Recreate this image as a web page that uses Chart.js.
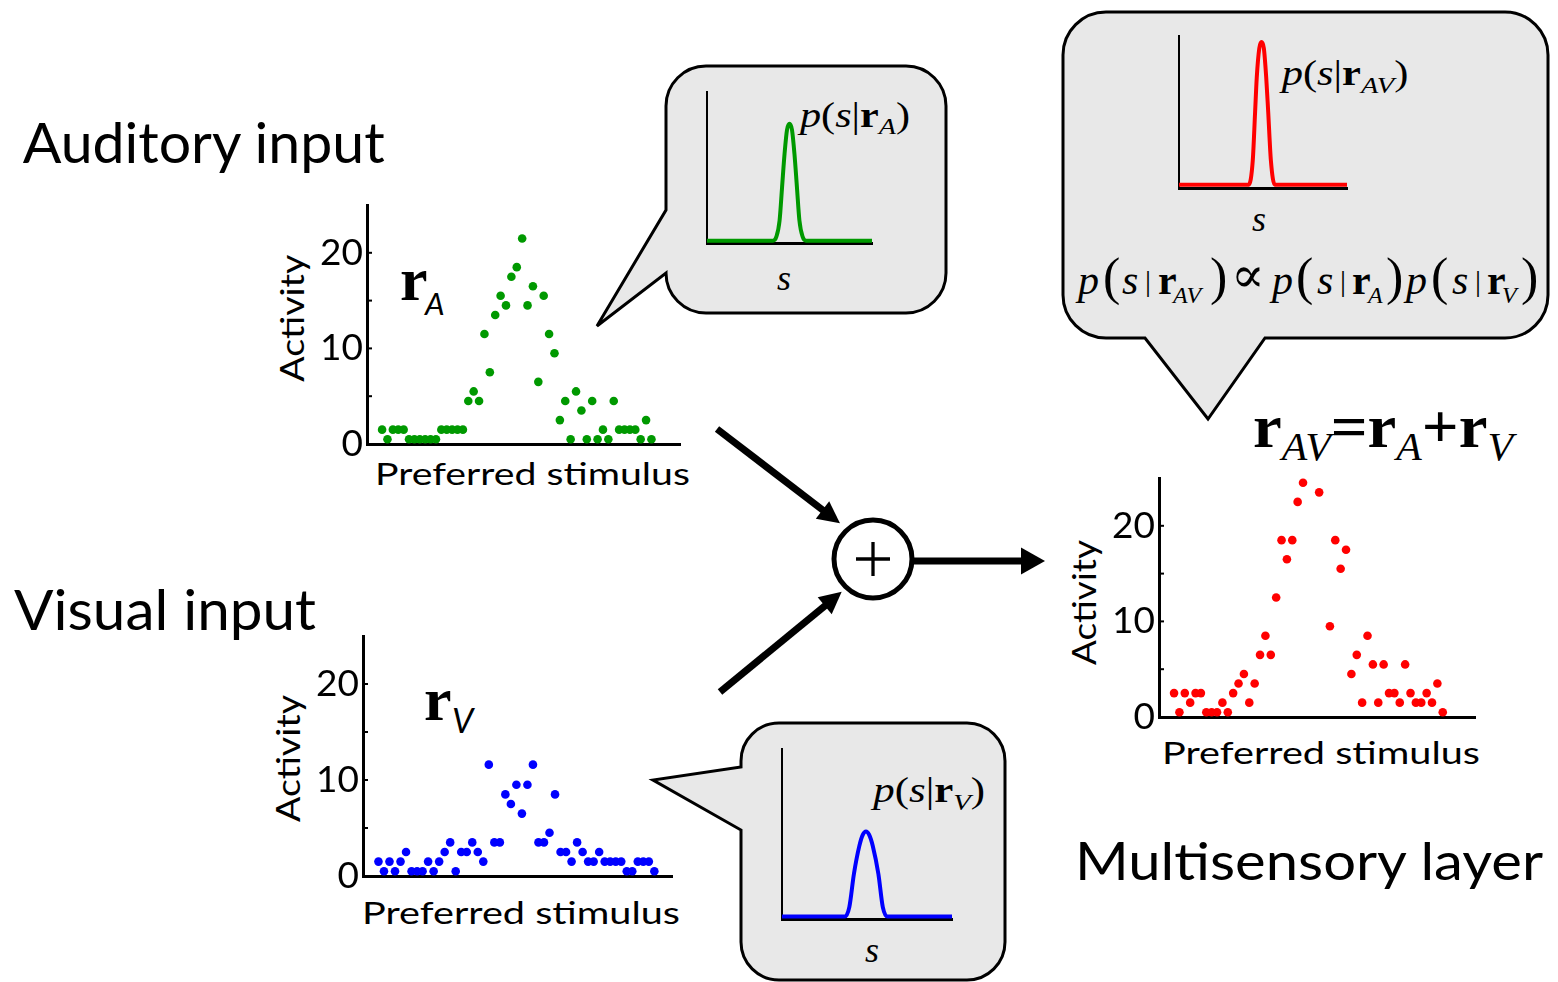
<!DOCTYPE html>
<html>
<head>
<meta charset="utf-8">
<script src="https://cdn.jsdelivr.net/npm/chart.js@4.4.0/dist/chart.umd.min.js"></script>
<style>
    html, body { margin: 0; padding: 0; background: #fff; }
    #stage { position: relative; width: 1558px; height: 982px; overflow: hidden; }
    #stage svg { position: absolute; left: 0; top: 0; }
    #stage canvas { position: absolute; }
</style>
</head>
<body>
<div id="stage">
<svg width="1558" height="982" xmlns="http://www.w3.org/2000/svg">
    <!-- пузыри -->
    <g fill="#e8e8e8" stroke="#000" stroke-width="3" stroke-linejoin="miter">
        <path d="M 706 66 H 906 A 40 40 0 0 1 946 106 V 273 A 40 40 0 0 1 906 313 H 706 A 40 40 0 0 1 666 273 L 597 326 L 666 210 V 106 A 40 40 0 0 1 706 66 Z"/>
        <path d="M 1106 12 H 1505 A 43 43 0 0 1 1548 55 V 295 A 43 43 0 0 1 1505 338 H 1265 L 1208 419 L 1145 338 H 1106 A 43 43 0 0 1 1063 295 V 55 A 43 43 0 0 1 1106 12 Z"/>
        <path d="M 779 723 H 967 A 38 38 0 0 1 1005 761 V 942 A 38 38 0 0 1 967 980 H 779 A 38 38 0 0 1 741 942 V 830 L 653 780 L 741 767 V 761 A 38 38 0 0 1 779 723 Z"/>
    </g>
    <!-- стрелки и сумматор -->
    <g stroke="#000" fill="none">
        <line x1="717" y1="429" x2="824" y2="511" stroke-width="7"/>
        <line x1="720" y1="692" x2="826" y2="605" stroke-width="7"/>
        <line x1="913" y1="561" x2="1024" y2="561" stroke-width="7"/>
        <circle cx="873" cy="559" r="39" stroke-width="5" fill="#fff"/>
        <line x1="856" y1="559" x2="890" y2="559" stroke-width="3.3"/>
        <line x1="873" y1="542" x2="873" y2="576" stroke-width="3.3"/>
    </g>
    <g fill="#000">
        <polygon points="840,523.3 815.8,518.7 829.2,501.3"/>
        <polygon points="841.7,591.7 831.7,614.2 817.7,597.2"/>
        <polygon points="1045,561 1021,547.5 1021,574.5"/>
    </g>

    <!-- подписи -->
    <g font-family="Lato, 'Open Sans', sans-serif" fill="#000">
        <text x="22.7" y="163.3" font-size="56" textLength="362" lengthAdjust="spacingAndGlyphs">Auditory input</text>
        <text x="14" y="630" font-size="56" textLength="302" lengthAdjust="spacingAndGlyphs">Visual input</text>
        <text x="1075" y="880" font-size="53" textLength="468" lengthAdjust="spacingAndGlyphs">Multisensory layer</text>
        <text x="375" y="485" font-size="31" textLength="315" lengthAdjust="spacingAndGlyphs">Preferred stimulus</text>
        <text x="362" y="924" font-size="31" textLength="318" lengthAdjust="spacingAndGlyphs">Preferred stimulus</text>
        <text x="1162" y="764" font-size="31" textLength="318" lengthAdjust="spacingAndGlyphs">Preferred stimulus</text>
        <text transform="translate(304,381.7) rotate(-90)" font-size="33" textLength="127" lengthAdjust="spacingAndGlyphs">Activity</text>
        <text transform="translate(300,822) rotate(-90)" font-size="33" textLength="127" lengthAdjust="spacingAndGlyphs">Activity</text>
        <text transform="translate(1096,665) rotate(-90)" font-size="33" textLength="125" lengthAdjust="spacingAndGlyphs">Activity</text>
        <text x="425" y="315" font-size="31" font-style="italic">A</text>
        <text x="452" y="733" font-size="34" font-style="italic">V</text>
    </g>

    <g font-family="'Liberation Serif', 'DejaVu Serif', serif" fill="#000">
        <text x="400" y="300" font-size="62" font-weight="bold">r</text>
        <text x="424" y="720" font-size="62" font-weight="bold">r</text>

        <text x="1253" y="446.7" textLength="260" lengthAdjust="spacingAndGlyphs"><tspan font-size="62" font-weight="bold">r</tspan><tspan font-size="40" font-style="italic" dy="13.3">AV</tspan><tspan font-size="62" font-weight="bold" dy="-13.3">=r</tspan><tspan font-size="40" font-style="italic" dy="13.3">A</tspan><tspan font-size="62" font-weight="bold" dy="-13.3">+r</tspan><tspan font-size="40" font-style="italic" dy="13.3">V</tspan></text>

        <text x="800" y="127" font-size="36" textLength="110" lengthAdjust="spacingAndGlyphs"><tspan font-style="italic">p</tspan>(<tspan font-style="italic">s</tspan>|<tspan font-weight="bold">r</tspan><tspan font-style="italic" font-size="24" dy="7">A</tspan><tspan dy="-7">)</tspan></text>
        <text x="1281.7" y="85" font-size="36" textLength="126.6" lengthAdjust="spacingAndGlyphs"><tspan font-style="italic">p</tspan>(<tspan font-style="italic">s</tspan>|<tspan font-weight="bold">r</tspan><tspan font-style="italic" font-size="24" dy="8">AV</tspan><tspan dy="-8">)</tspan></text>
        <text x="873.3" y="802" font-size="36" textLength="111.7" lengthAdjust="spacingAndGlyphs"><tspan font-style="italic">p</tspan>(<tspan font-style="italic">s</tspan>|<tspan font-weight="bold">r</tspan><tspan font-style="italic" font-size="24" dy="8">V</tspan><tspan dy="-8">)</tspan></text>

        <text x="777" y="290" font-size="36" font-style="italic">s</text>
        <text x="1252" y="231" font-size="36" font-style="italic">s</text>
        <text x="865" y="962" font-size="36" font-style="italic">s</text>

        <text y="294" font-size="42"><tspan x="1078" font-style="italic">p</tspan><tspan x="1103" font-size="52">(</tspan><tspan x="1122" font-style="italic">s</tspan><tspan x="1145" font-size="30" dy="-3">|</tspan><tspan x="1158" font-weight="bold" dy="3">r</tspan><tspan x="1173" font-style="italic" font-size="24" dy="9">AV</tspan><tspan x="1210" font-size="52" dy="-9">)</tspan><tspan x="1231" font-size="50" dy="-2">∝</tspan><tspan x="1272" font-style="italic" dy="2">p</tspan><tspan x="1296" font-size="52">(</tspan><tspan x="1317" font-style="italic">s</tspan><tspan x="1340" font-size="30" dy="-3">|</tspan><tspan x="1352" font-weight="bold" dy="3">r</tspan><tspan x="1368" font-style="italic" font-size="24" dy="9">A</tspan><tspan x="1386" font-size="52" dy="-9">)</tspan><tspan x="1406" font-style="italic">p</tspan><tspan x="1431" font-size="52">(</tspan><tspan x="1452" font-style="italic">s</tspan><tspan x="1475" font-size="30" dy="-3">|</tspan><tspan x="1487" font-weight="bold" dy="3">r</tspan><tspan x="1502" font-style="italic" font-size="24" dy="9">V</tspan><tspan x="1521" font-size="52" dy="-9">)</tspan></text>
    </g>
</svg>
<canvas id="chartA"></canvas>
<canvas id="chartV"></canvas>
<canvas id="chartAV"></canvas>
<canvas id="postA"></canvas>
<canvas id="postV"></canvas>
<canvas id="postAV"></canvas>
</div>

<script>
// Номер нейрона (предпочитаемый стимул)
const neuronIndex = [0, 1, 2, 3, 4, 5, 6, 7, 8, 9, 10, 11, 12, 13, 14, 15, 16, 17, 18, 19, 20,
    21, 22, 23, 24, 25, 26, 27, 28, 29, 30, 31, 32, 33, 34, 35, 36, 37, 38, 39, 40,
    41, 42, 43, 44, 45, 46, 47, 48, 49, 50];

// Активность слуховой популяции r_A
const auditoryActivity = [1.5, 0.5, 1.5, 1.5, 1.5, 0.5, 0.5, 0.5, 0.5, 0.5, 0.5, 1.5, 1.5, 1.5, 1.5, 1.5,
    4.5, 5.5, 4.5, 11.5, 7.5, 13.5, 15.5, 14.5, 17.5, 18.5, 21.5, 14.5, 16.5, 6.5, 15.5, 11.5, 9.5,
    2.5, 4.5, 0.5, 5.5, 3.5, 0.5, 4.5, 0.5, 1.5, 0.5, 4.5, 1.5, 1.5, 1.5, 1.5, 0.5, 2.5, 0.5];

// Активность зрительной популяции r_V
const visualActivity = [1.5, 0.5, 1.5, 0.5, 1.5, 2.5, 0.5, 0.5, 0.5, 1.5, 0.5, 1.5, 2.5, 3.5, 0.5, 2.5,
    2.5, 3.5, 2.5, 1.5, 11.6, 3.5, 3.5, 8.5, 7.5, 9.5, 6.5, 9.5, 11.6, 3.5, 3.5, 4.5, 8.5,
    2.5, 2.5, 1.5, 3.5, 2.5, 1.5, 1.5, 2.5, 1.5, 1.5, 1.5, 1.5, 0.5, 0.5, 1.5, 1.5, 1.5, 0.5];

// Мультисенсорный слой r_AV (null — точка за пределами оси)
const multisensoryActivity = [2.5, 0.5, 2.5, 1.5, 2.5, 2.5, 0.5, 0.5, 0.5, 1.5, 0.5, 2.5, 3.5, 4.5, 1.5, 3.5,
    6.5, 8.5, 6.5, 12.5, 18.5, 16.5, 18.5, 22.5, 24.5, null, null, 23.5, null, 9.5, 18.5, 15.5, 17.5,
    4.5, 6.5, 1.5, 8.5, 5.5, 1.5, 5.5, 2.5, 2.5, 1.5, 5.5, 2.5, 1.5, 1.5, 2.5, 1.5, 3.5, 0.5];

const activityTickLabels = [0, 10, 20];
const activityTickMarks = [5, 10, 15, 20];

// Апостериорные распределения p(s|r)
const postA_s = [0, 40, 42, 44, 45.5, 47, 48.5, 50, 51.5, 53, 54.5, 56, 58, 60, 100];
const postA_p = [0.015, 0.015, 0.04, 0.15, 0.37, 0.59, 0.75, 0.79, 0.75, 0.59, 0.37, 0.15, 0.04, 0.015, 0.015];

const postV_s = [0, 37, 39.6, 42.3, 45.5, 47.5, 49.4, 51.3, 53.4, 56.7, 59.3, 62, 100];
const postV_p = [0.014, 0.014, 0.07, 0.265, 0.43, 0.495, 0.515, 0.495, 0.43, 0.265, 0.07, 0.014, 0.014];

const postAV_s = [0, 41.5, 43.9, 45.3, 46.3, 47.8, 49.1, 50.5, 51.9, 53.1, 54.7, 57, 100];
const postAV_p = [0.022, 0.022, 0.18, 0.5, 0.73, 0.92, 0.96, 0.92, 0.73, 0.5, 0.18, 0.022, 0.022];

// Короткие засечки внутри графика
const innerTicks = {
    id: 'innerTicks',
    afterDraw(chart) {
        const ys = chart.scales.y;
        const ctx = chart.ctx;
        ctx.save();
        ctx.strokeStyle = '#000';
        ctx.lineWidth = 2;
        activityTickMarks.forEach(v => {
            const py = ys.getPixelForValue(v);
            ctx.beginPath();
            ctx.moveTo(ys.right, py);
            ctx.lineTo(ys.right + 5, py);
            ctx.stroke();
        });
        ctx.restore();
    }
};

function placeCanvas(id, area, pad) {
    const cv = document.getElementById(id);
    cv.width = area.right - area.left + pad.l + pad.r;
    cv.height = area.bottom - area.top + pad.t + pad.b;
    cv.style.left = (area.left - pad.l) + 'px';
    cv.style.top = (area.top - pad.t) + 'px';
    return cv;
}

function scatterChart(id, area, xMax, values, color) {
    const pad = { l: 110, t: 30, r: 20, b: 60 };
    const cv = placeCanvas(id, area, pad);
    return new Chart(cv, {
        type: 'scatter',
        data: {
            datasets: [{
                data: neuronIndex.map((x, i) => ({ x: x, y: values[i] })),
                backgroundColor: color,
                borderWidth: 0,
                pointRadius: 4.3,
                pointHoverRadius: 4.3
            }]
        },
        options: {
            responsive: false,
            animation: false,
            devicePixelRatio: 1,
            layout: { padding: { left: 0, top: pad.t, right: pad.r, bottom: 0 } },
            plugins: { legend: { display: false }, tooltip: { enabled: false } },
            scales: {
                x: {
                    type: 'linear', min: -2.8, max: xMax,
                    ticks: { display: false },
                    grid: { display: false, drawTicks: false },
                    border: { display: true, color: '#000', width: 3 },
                    afterFit: s => { s.height = pad.b; }
                },
                y: {
                    min: 0, max: 25,
                    ticks: {
                        stepSize: 5, padding: 4, color: '#000',
                        font: { family: 'Lato', size: 37 },
                        callback: v => activityTickLabels.includes(v) ? String(v) : ''
                    },
                    grid: { display: false, drawTicks: false },
                    border: { display: true, color: '#000', width: 3 },
                    afterFit: s => { s.width = pad.l; }
                }
            }
        },
        plugins: [innerTicks]
    });
}

function curveChart(id, area, xs, ys, color) {
    const pad = { l: 10, t: 10, r: 10, b: 10 };
    const cv = placeCanvas(id, area, pad);
    return new Chart(cv, {
        type: 'line',
        data: {
            datasets: [{
                data: xs.map((x, i) => ({ x: x, y: ys[i] })),
                borderColor: color,
                borderWidth: 4,
                pointRadius: 0,
                cubicInterpolationMode: 'monotone',
                fill: false
            }]
        },
        options: {
            responsive: false,
            animation: false,
            devicePixelRatio: 1,
            layout: { padding: { left: 0, top: pad.t, right: pad.r, bottom: 0 } },
            plugins: { legend: { display: false }, tooltip: { enabled: false } },
            scales: {
                x: {
                    type: 'linear', min: 0, max: 100,
                    ticks: { display: false },
                    grid: { display: false, drawTicks: false },
                    border: { display: true, color: '#000', width: 3 },
                    afterFit: s => { s.height = pad.b; }
                },
                y: {
                    min: 0, max: 1,
                    ticks: { display: false },
                    grid: { display: false, drawTicks: false },
                    border: { display: true, color: '#000', width: 2 },
                    afterFit: s => { s.width = pad.l; }
                }
            }
        }
    });
}

scatterChart('chartA', { left: 367, right: 680, top: 205, bottom: 444 }, 55.3, auditoryActivity, '#009900');
scatterChart('chartV', { left: 363, right: 672, top: 636, bottom: 876 }, 53.2, visualActivity, '#0000ff');
scatterChart('chartAV', { left: 1159, right: 1475, top: 478, bottom: 717 }, 56.0, multisensoryActivity, '#ff0000');

curveChart('postA', { left: 707, right: 872, top: 92, bottom: 243 }, postA_s, postA_p, '#009900');
curveChart('postV', { left: 782, right: 952, top: 749, bottom: 919 }, postV_s, postV_p, '#0000ff');
curveChart('postAV', { left: 1179, right: 1347, top: 36, bottom: 188 }, postAV_s, postAV_p, '#ff0000');
</script>
</body>
</html>
